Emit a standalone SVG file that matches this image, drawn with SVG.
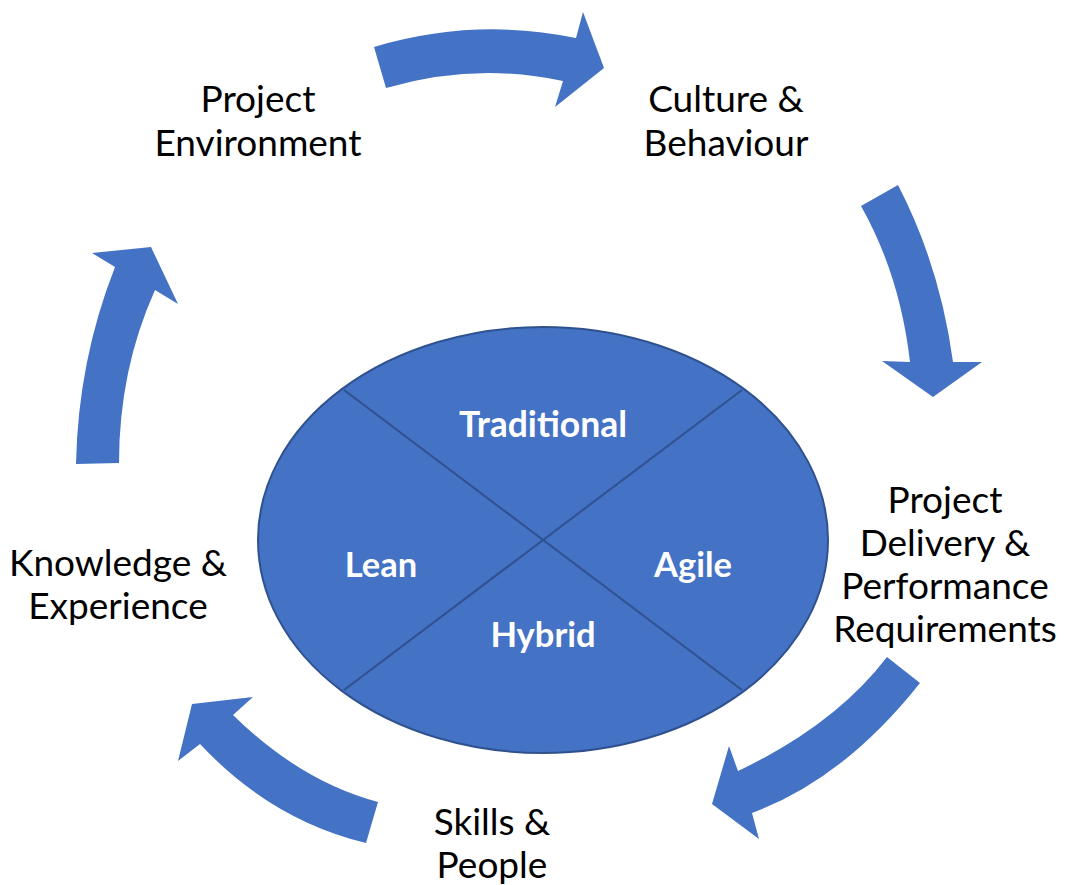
<svg xmlns="http://www.w3.org/2000/svg" width="1069" height="885" viewBox="0 0 1069 885">
<style>
.arrow{fill:#4472C4;stroke:none}
.lbl{font-family:Lato,"Open Sans",sans-serif;font-size:37px;fill:#000;text-anchor:middle}
.in{font-family:Lato,"Open Sans",sans-serif;font-size:34.5px;font-weight:bold;fill:#fff;text-anchor:middle}
</style>
<rect width="1069" height="885" fill="#fff"/>
<g id="connectors">
<path class="arrow" d="M374,47 Q475,17 576,38 L583,12 L604,68 L555,107 L563,81 Q475,62 386,88 Z"/>
<path class="arrow" d="M898,185 Q940,266 953,362 L982,362 L933,397 L882,361 L910,362 Q900,275 861,206 Z"/>
<path class="arrow" d="M920,683 Q844,779 752,813 L759,839 L712,804 L729,746 L738,771 Q835,725 887,657 Z"/>
<path class="arrow" d="M378,802 Q300,781 233,715 L253,697 L192,704 L178,761 L200,744 Q271,820 366,843 Z"/>
<path class="arrow" d="M119,463 Q119,370 155,290 L178,304 L151,247 L92,253 L115,267 Q78,361 76,464 Z"/>
</g>
<g id="center">
<ellipse cx="543" cy="540" rx="285" ry="213" fill="#4472C4" stroke="#2F528F" stroke-width="2"/>
<line x1="344" y1="390" x2="742" y2="690" stroke="#2F528F" stroke-width="2"/>
<line x1="742" y1="390" x2="344" y2="690" stroke="#2F528F" stroke-width="2"/>
</g>
<g id="traditional"><text class="in" x="543" y="437" style="font-size:35.5px">Traditional</text></g>
<g id="lean"><text class="in" x="381" y="577">Lean</text></g>
<g id="agile"><text class="in" x="693" y="577">Agile</text></g>
<g id="hybrid"><text class="in" x="543" y="647">Hybrid</text></g>
<g id="project-environment"><text class="lbl" x="258" y="112">Project</text><text class="lbl" x="258" y="156">Environment</text></g>
<g id="culture-behaviour"><text class="lbl" x="726" y="112">Culture &amp;</text><text class="lbl" x="726" y="156">Behaviour</text></g>
<g id="project-delivery"><text class="lbl" x="945" y="513">Project</text><text class="lbl" x="945" y="556">Delivery &amp;</text><text class="lbl" x="945" y="599">Performance</text><text class="lbl" x="945" y="642">Requirements</text></g>
<g id="skills-people"><text class="lbl" x="492" y="835">Skills &amp;</text><text class="lbl" x="492" y="878">People</text></g>
<g id="knowledge-experience"><text class="lbl" x="118" y="576">Knowledge &amp;</text><text class="lbl" x="118" y="619">Experience</text></g>
</svg>
